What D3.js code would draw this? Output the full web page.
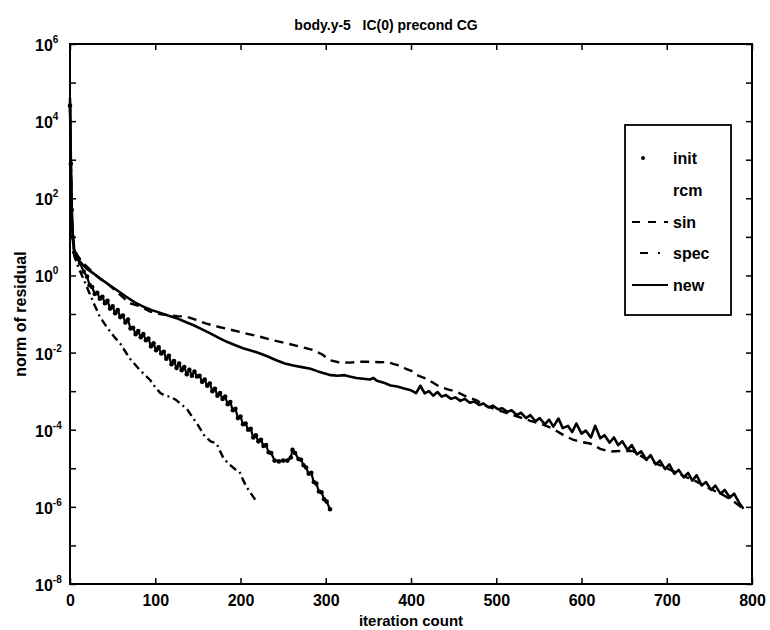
<!DOCTYPE html>
<html>
<head>
<meta charset="utf-8">
<script src="https://cdn.jsdelivr.net/npm/d3@7"></script>
<style>
  html, body { margin: 0; padding: 0; background: #fff; }
  svg { display: block; }
  text { font-family: "Liberation Sans", Arial, Helvetica, sans-serif; fill: #000; }
</style>
</head>
<body>
<svg id="chart" width="770" height="630"></svg>
<script>
// ---------- data ----------
const titleText = "body.y-5   IC(0) precond CG";
const xLabel = "iteration count";
const yLabel = "norm of residual";
const legendLabels = ["init", "rcm", "sin", "spec", "new"];
const xTicks = [0, 100, 200, 300, 400, 500, 600, 700, 800];
const yMinorTicks = [1e6,1e5,1e4,1e3,1e2,1e1,1e0,1e-1,1e-2,1e-3,1e-4,1e-5,1e-6,1e-7,1e-8];
const yLabelExps = ["6", "4", "2", "0", "-2", "-4", "-6", "-8"];
const yLabelVals = [1e6, 1e4, 1e2, 1e0, 1e-2, 1e-4, 1e-6, 1e-8];

// "new" (solid)
const newIter = [0,1,2,3,5,8,12,20,27,35,41,47,56,66,76,86,96,106,115,125,135,145,155,164,174,184,194,203,213,223,232,242,252,262,272,282,290,298,306,314,322,328,336,344,352,356,360,368,376,384,392,
  400,406,411,416,421,426,431,436,441,447,452,458,463,469,474,480,485,491,496,502,507,513,518,524,529,535,540,546,551,557,562,567,573,578,584,589,594,600,605,611,616,622,627,633,638,643,648,654,659,665,670,676,681,687,692,698,703,709,714,720,725,730,735,741,746,752,757,763,768,774,779,785,790];
const newVal = [4.0e4,1.0e3,63,13,4.5,3.0,2.2,1.48,1.15,0.83,0.68,0.55,0.40,0.28,0.20,0.155,0.126,0.107,0.091,0.078,0.063,0.051,0.040,0.032,0.0245,0.019,0.0155,0.0129,0.0112,0.0095,0.0079,0.0063,0.0052,0.0046,0.0042,0.0038,0.0033,0.0029,0.0026,0.0025,0.0026,0.0024,0.0022,0.0021,0.0020,0.0022,0.00186,0.00166,0.0014,0.00132,0.00117,
  1.05e-3,8.9e-4,1.38e-3,8.7e-4,1.0e-3,7.6e-4,9.5e-4,7.2e-4,7.9e-4,6.3e-4,6.9e-4,5.6e-4,6.3e-4,5.0e-4,5.4e-4,4.4e-4,4.8e-4,3.8e-4,4.2e-4,3.4e-4,3.6e-4,2.9e-4,3.2e-4,2.4e-4,2.75e-4,2.0e-4,2.4e-4,1.66e-4,2.0e-4,1.38e-4,1.82e-4,1.2e-4,1.95e-4,1.1e-4,1.26e-4,8.7e-5,1.45e-4,7.9e-5,9.5e-5,6.3e-5,1.26e-4,6.0e-5,7.2e-5,4.6e-5,6.3e-5,4.0e-5,5.0e-5,3.0e-5,4.0e-5,2.3e-5,2.75e-5,1.66e-5,2.2e-5,1.26e-5,1.58e-5,9.5e-6,1.26e-5,7.2e-6,9.1e-6,5.8e-6,7.6e-6,4.8e-6,6.6e-6,3.6e-6,4.4e-6,2.75e-6,3.55e-6,2.2e-6,2.75e-6,1.74e-6,2.2e-6,1.26e-6,8.9e-7];

// "sin" (dashed)
const sinIter = [0,1,2,3,5,8,12,18,25,32,40,50,60,70,82,94,105,115,126,137,148,160,175,191,207,223,238,254,270,285,296,305,315,328,340,352,364,372,380,387,395,401,407,413,418,425,434,444,454,465,477,487,497,510,525,540,555,567,579,590,600,610,622,633,645,660,675,690,705,720,735,750,765,778,790];
const sinVal = [3.0e4,800,50,12,5.0,3.5,2.6,1.86,1.3,0.95,0.7,0.47,0.30,0.19,0.158,0.115,0.10,0.093,0.088,0.085,0.07,0.056,0.046,0.038,0.031,0.0257,0.021,0.0174,0.0142,0.0117,0.0089,0.0063,0.0056,0.0055,0.0058,0.0058,0.0056,0.0057,0.0050,0.0046,0.0037,0.0033,0.0026,0.0023,0.0021,0.0017,0.00129,0.00110,0.00095,0.00072,0.00058,0.00042,0.00035,2.8e-4,2.2e-4,1.7e-4,1.35e-4,1.05e-4,7.2e-5,5.5e-5,4.8e-5,4.4e-5,3.2e-5,2.7e-5,2.8e-5,2.8e-5,1.78e-5,1.26e-5,8.9e-6,6.3e-6,4.5e-6,3.0e-6,2.1e-6,1.41e-6,8.9e-7];

// "spec" (dash-dot)
const specIter = [0,1,2,3,5,10,17,23,29,35,41,47,53,59,65,70,76,82,88,94,100,106,112,118,124,129,137,143,149,158,165,172,176,180,187,194,199,203,207,213,219];
const specVal = [2.0e4,630,50,10,3.2,1.58,0.71,0.34,0.166,0.085,0.054,0.035,0.024,0.017,0.0105,0.0071,0.0050,0.0035,0.0026,0.00195,0.00126,8.9e-4,7.6e-4,7.1e-4,6.0e-4,4.8e-4,3.5e-4,2.2e-4,1.45e-4,6.8e-5,5.0e-5,4.4e-5,2.8e-5,1.82e-5,1.26e-5,9.3e-6,8.1e-6,5.0e-6,3.3e-6,2.1e-6,1.35e-6];

// "init" (point markers)
const initIter = [0,1,2,3,5,8,12,16,20,23,26,29,32,35,38,41,44,47,50,53,56,59,62,65,68,71,74,77,80,83,86,89,92,95,98,101,104,107,110,113,116,119,122,125,128,131,134,137,140,143,146,149,152,155,158,161,164,167,170,173,176,179,182,185,188,191,194,197,200,203,206,209,212,215,218,221,224,227,230,233,236,240,245,250,255,259,261,264,268,271,274,277,280,283,286,289,292,295,298,301,305];
const initVal = [2.5e4,790,50,10,4.0,2.8,2.04,1.26,0.93,0.56,0.50,0.33,0.355,0.25,0.28,0.19,0.22,0.138,0.158,0.105,0.126,0.083,0.091,0.060,0.072,0.042,0.044,0.030,0.036,0.025,0.030,0.021,0.023,0.0145,0.0174,0.0115,0.0138,0.0095,0.0105,0.0069,0.0083,0.0050,0.0060,0.0040,0.0052,0.0035,0.0042,0.00275,0.0036,0.0025,0.0032,0.0024,0.0025,0.00174,0.0020,0.00138,0.00158,0.0010,0.00115,7.6e-4,8.9e-4,6.3e-4,7.2e-4,4.6e-4,5.2e-4,3.2e-4,3.5e-4,2.0e-4,2.2e-4,1.38e-4,1.45e-4,1.0e-4,1.05e-4,6.3e-5,7.2e-5,5.0e-5,5.5e-5,3.8e-5,4.0e-5,2.6e-5,2.5e-5,1.58e-5,1.51e-5,1.58e-5,1.58e-5,1.9e-5,3.0e-5,2.5e-5,1.74e-5,1.66e-5,1.2e-5,1.05e-5,7.2e-6,7.6e-6,4.4e-6,4.0e-6,2.5e-6,2.4e-6,1.58e-6,1.38e-6,8.7e-7];

// ---------- drawing ----------
const svg = d3.select("#chart");
const L = 70, R = 752, T = 44, B = 584;
const x = d3.scaleLinear().domain([0, 800]).range([L, R]);
const y = d3.scaleLog().domain([1e-8, 1e6]).range([B, T]);

const zip = (a, b) => a.map((d, i) => [d, b[i]]);
const line = d3.line().x(d => x(d[0])).y(d => y(d[1]));

// axes (ticks inward, on all four sides)
const tk = 6;
svg.append("g").attr("transform", `translate(0,${B})`)
  .call(d3.axisBottom(x).tickValues(xTicks).tickSize(-tk).tickPadding(tk + 5).tickFormat((d, i) => String(xTicks[i])))
  .call(g => { g.select(".domain").remove(); g.selectAll("text").attr("font-size", 16).attr("font-weight", "bold"); });
svg.append("g").attr("transform", `translate(0,${T})`)
  .call(d3.axisTop(x).tickValues(xTicks).tickSize(-tk).tickFormat(""))
  .call(g => g.select(".domain").remove());
svg.append("g").attr("transform", `translate(${L},0)`)
  .call(d3.axisLeft(y).tickValues(yMinorTicks).tickSize(-tk).tickFormat(""))
  .call(g => g.select(".domain").remove());
svg.append("g").attr("transform", `translate(${R},0)`)
  .call(d3.axisRight(y).tickValues(yMinorTicks).tickSize(-tk).tickFormat(""))
  .call(g => g.select(".domain").remove());
svg.selectAll(".tick line").attr("stroke", "#000").attr("stroke-width", 1.5);

// y tick labels with superscript exponents
const yl = svg.append("g");
yLabelVals.forEach((v, i) => {
  const t = yl.append("text").attr("x", 35).attr("y", y(v) + 7)
    .attr("font-size", 16).attr("font-weight", "bold");
  t.append("tspan").text("10");
  t.append("tspan").attr("dy", -8).attr("font-size", 10).text(yLabelExps[i]);
});

// frame
svg.append("rect").attr("x", L).attr("y", T).attr("width", R - L).attr("height", B - T)
  .attr("fill", "none").attr("stroke", "#000").attr("stroke-width", 2);

// series
const plot = svg.append("g");
plot.append("path").datum(zip(sinIter, sinVal)).attr("d", line)
  .attr("fill", "none").attr("stroke", "#000").attr("stroke-width", 2.4).attr("stroke-dasharray", "9,6");
plot.append("path").datum(zip(specIter, specVal)).attr("d", line)
  .attr("fill", "none").attr("stroke", "#000").attr("stroke-width", 2.4).attr("stroke-dasharray", "8,4,2,4");
plot.append("path").datum(zip(newIter, newVal)).attr("d", line)
  .attr("fill", "none").attr("stroke", "#000").attr("stroke-width", 2.6).attr("stroke-linejoin", "round");
const initData = zip(initIter, initVal);
plot.append("path").datum(initData).attr("d", line)
  .attr("fill", "none").attr("stroke", "#000").attr("stroke-width", 2.2);
plot.selectAll("circle.init").data(initData).enter().append("circle").attr("class", "init")
  .attr("cx", d => x(d[0])).attr("cy", d => y(d[1])).attr("r", 2.3).attr("fill", "#000");

// title and axis labels
svg.append("text").attr("x", 386).attr("y", 30).attr("text-anchor", "middle")
  .attr("font-size", 14).attr("font-weight", "bold").style("white-space", "pre").text(titleText);
svg.append("text").attr("x", (L + R) / 2).attr("y", 626).attr("text-anchor", "middle")
  .attr("font-size", 15).attr("font-weight", "bold").text(xLabel);
svg.append("text").attr("transform", `translate(26,${(T + B) / 2}) rotate(-90)`).attr("text-anchor", "middle")
  .attr("font-size", 16).attr("font-weight", "bold").text(yLabel);

// legend
const lg = svg.append("g");
lg.append("rect").attr("x", 625).attr("y", 125).attr("width", 106).attr("height", 190)
  .attr("fill", "#fff").attr("stroke", "#000").attr("stroke-width", 1.8);
const rowY = [158, 190, 222, 253, 285];
legendLabels.forEach((lab, i) => {
  lg.append("text").attr("x", 673).attr("y", rowY[i] + 6).attr("font-size", 16).attr("font-weight", "bold").text(lab);
});
lg.append("circle").attr("cx", 643).attr("cy", rowY[0]).attr("r", 2).attr("fill", "#000");
lg.append("line").attr("x1", 632).attr("x2", 668).attr("y1", rowY[2]).attr("y2", rowY[2])
  .attr("stroke", "#000").attr("stroke-width", 2).attr("stroke-dasharray", "8,8");
lg.append("line").attr("x1", 640).attr("x2", 668).attr("y1", rowY[3]).attr("y2", rowY[3])
  .attr("stroke", "#000").attr("stroke-width", 2).attr("stroke-dasharray", "8,10,2,10");
lg.append("line").attr("x1", 632).attr("x2", 668).attr("y1", rowY[4]).attr("y2", rowY[4])
  .attr("stroke", "#000").attr("stroke-width", 2);
</script>
</body>
</html>
